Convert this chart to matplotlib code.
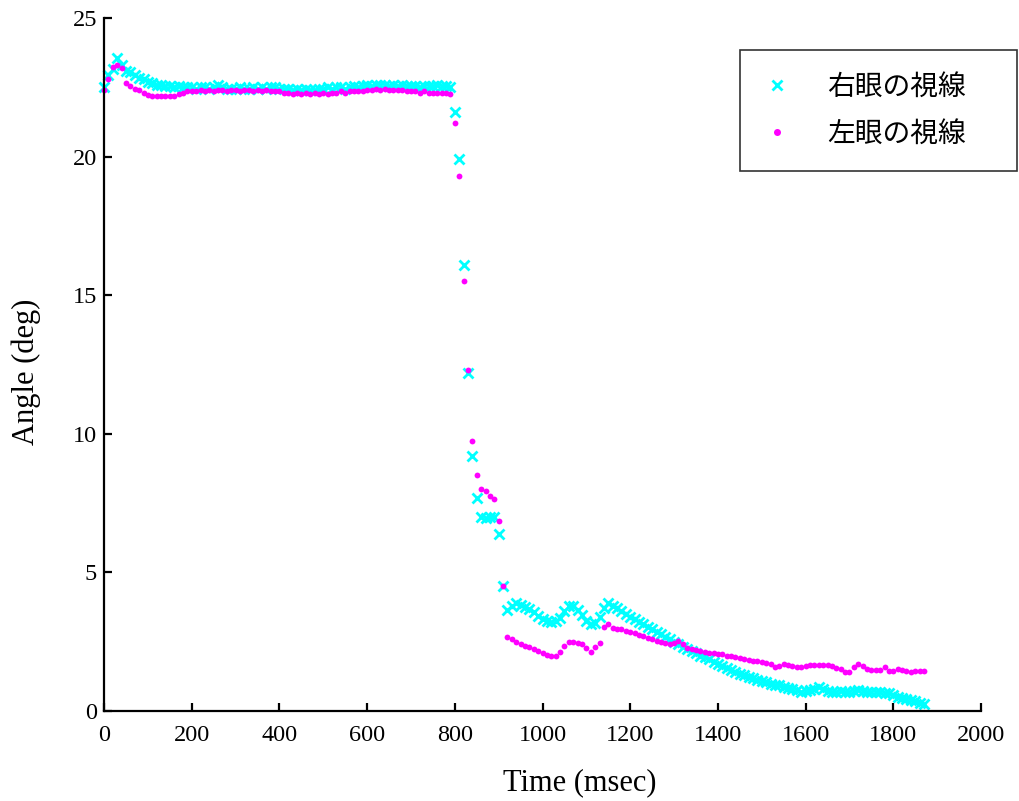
import numpy as np
import matplotlib
matplotlib.use('Agg')
from matplotlib import pyplot as plt

# sampling grid (msec), one sample every 10 ms
time_ms = np.arange(0, 1880, 10)

# 右眼の視線 (right eye)
right_eye = [
    22.5, 22.95, 23.15, 23.55, 23.3, 23.1, 23.05, 22.95, 22.85, 22.8,
    22.7, 22.65, 22.6, 22.6, 22.55, 22.55, 22.5, 22.55, 22.5, 22.5,
    22.5, 22.45, 22.5, 22.5, 22.45, 22.5, 22.6, 22.5, 22.45, 22.45,
    22.45, 22.5, 22.45, 22.45, 22.5, 22.45, 22.5, 22.45, 22.5, 22.5,
    22.45, 22.45, 22.45, 22.4, 22.45, 22.4, 22.45, 22.4, 22.4, 22.45,
    22.45, 22.5, 22.45, 22.5, 22.5, 22.45, 22.5, 22.55, 22.5, 22.55,
    22.6, 22.55, 22.6, 22.6, 22.6, 22.55, 22.6, 22.55, 22.6, 22.55,
    22.55, 22.55, 22.5, 22.55, 22.55, 22.55, 22.6, 22.55, 22.55, 22.5,
    21.6, 19.9, 16.1, 12.2, 9.2, 7.7, 7.0, 6.95, 7.0, 7.0,
    6.4, 4.5, 3.65, 3.8, 3.88, 3.84, 3.76, 3.68, 3.56, 3.44,
    3.33, 3.26, 3.22, 3.24, 3.36, 3.62, 3.8, 3.78, 3.66, 3.46,
    3.26, 3.12, 3.18, 3.4, 3.72, 3.88, 3.8, 3.7, 3.62, 3.5,
    3.4, 3.3, 3.22, 3.12, 3.04, 2.94, 2.84, 2.76, 2.68, 2.6,
    2.5, 2.42, 2.32, 2.24, 2.16, 2.08, 2.0, 1.94, 1.86, 1.78,
    1.7, 1.62, 1.54, 1.46, 1.4, 1.34, 1.28, 1.22, 1.18, 1.12,
    1.08, 1.04, 0.98, 0.95, 0.92, 0.88, 0.82, 0.78, 0.74, 0.7,
    0.72, 0.74, 0.8, 0.86, 0.8, 0.72, 0.7, 0.7, 0.72, 0.7,
    0.7, 0.72, 0.76, 0.72, 0.7, 0.7, 0.68, 0.7, 0.66, 0.64,
    0.58, 0.5, 0.46, 0.42, 0.4, 0.36, 0.3, 0.26,
]

# 左眼の視線 (left eye)
left_eye = [
    22.4, 22.8, 23.25, 23.3, 23.2, 22.65, 22.55, 22.45, 22.4, 22.3,
    22.22, 22.2, 22.2, 22.2, 22.2, 22.2, 22.2, 22.25, 22.3, 22.35,
    22.35, 22.35, 22.4, 22.35, 22.4, 22.35, 22.4, 22.4, 22.35, 22.4,
    22.4, 22.35, 22.4, 22.4, 22.35, 22.4, 22.35, 22.4, 22.35, 22.35,
    22.35, 22.3, 22.3, 22.25, 22.3, 22.25, 22.3, 22.25, 22.3, 22.25,
    22.3, 22.25, 22.3, 22.3, 22.35, 22.3, 22.35, 22.35, 22.35, 22.35,
    22.4, 22.4, 22.45, 22.4, 22.45, 22.4, 22.4, 22.4, 22.4, 22.35,
    22.35, 22.35, 22.3, 22.35, 22.3, 22.3, 22.3, 22.3, 22.3, 22.25,
    21.2, 19.3, 15.5, 12.3, 9.75, 8.5, 8.0, 7.94, 7.77, 7.65,
    6.85, 4.5, 2.68, 2.58, 2.48, 2.42, 2.36, 2.3, 2.24, 2.18,
    2.1, 2.02, 1.98, 2.0, 2.14, 2.36, 2.5, 2.5, 2.46, 2.4,
    2.26, 2.14, 2.3, 2.46, 3.04, 3.12, 2.98, 2.95, 2.94, 2.9,
    2.84, 2.8, 2.74, 2.7, 2.64, 2.58, 2.54, 2.48, 2.44, 2.42,
    2.44, 2.52, 2.4, 2.28, 2.24, 2.2, 2.16, 2.12, 2.1, 2.08,
    2.06, 2.04, 2.0, 1.98, 1.94, 1.9, 1.88, 1.84, 1.82, 1.8,
    1.78, 1.74, 1.7, 1.6, 1.62, 1.68, 1.66, 1.64, 1.6, 1.6,
    1.62, 1.66, 1.66, 1.66, 1.66, 1.66, 1.64, 1.56, 1.5, 1.42,
    1.42, 1.58, 1.7, 1.62, 1.5, 1.46, 1.48, 1.48, 1.6, 1.44,
    1.44, 1.5, 1.48, 1.44, 1.42, 1.44, 1.45, 1.45,
]

labels = ['右眼の視線', '左眼の視線']
x_ticks = np.arange(0, 2001, 200)
y_ticks = np.arange(0, 26, 5)

serif = 'Liberation Serif'
jp = ['Noto Sans CJK JP', 'DejaVu Sans']

fig = plt.figure(figsize=(10.2, 8.01), dpi=100)
ax = fig.add_axes([0.102, 0.1124, 0.8598, 0.8651])

ax.plot(time_ms, right_eye, linestyle='none', marker='x', color='#00ffff',
        markersize=6.5, markeredgewidth=2.0, label=labels[0], clip_on=False)
ax.plot(time_ms, left_eye, linestyle='none', marker='o', color='#ff00ff',
        markersize=4.2, markeredgewidth=0, label=labels[1], clip_on=False)

ax.set_xlim(0, 2000)
ax.set_ylim(0, 25)
ax.set_xticks(x_ticks)
ax.set_yticks(y_ticks)
ax.spines['top'].set_visible(False)
ax.spines['right'].set_visible(False)
for s in ['left', 'bottom']:
    ax.spines[s].set_linewidth(1.6)
ax.tick_params(direction='in', length=6, width=1.6)
ax.tick_params(axis='x', pad=10)
ax.tick_params(axis='y', pad=5)
for lab in ax.get_xticklabels() + ax.get_yticklabels():
    lab.set_fontfamily(serif)
    lab.set_fontsize(17.5)

ax.set_xlabel('Time (msec)', fontfamily=serif, fontsize=22)
ax.xaxis.set_label_coords(0.543, -0.082)
ax.set_ylabel('Angle (deg)', fontfamily=serif, fontsize=22)
ax.yaxis.set_label_coords(-0.072, 0.49)

leg = ax.legend(loc='upper left', bbox_to_anchor=(0.725, 0.773, 0.316, 0.181),
                mode='expand', prop={'family': jp, 'size': 20},
                frameon=True, fancybox=False, edgecolor='black',
                borderpad=0.8, labelspacing=0.6, handlelength=1.05,
                handletextpad=1.3, borderaxespad=0, markerscale=1.2)
leg.get_frame().set_linewidth(1.2)

fig.savefig('out.png', dpi=100)
